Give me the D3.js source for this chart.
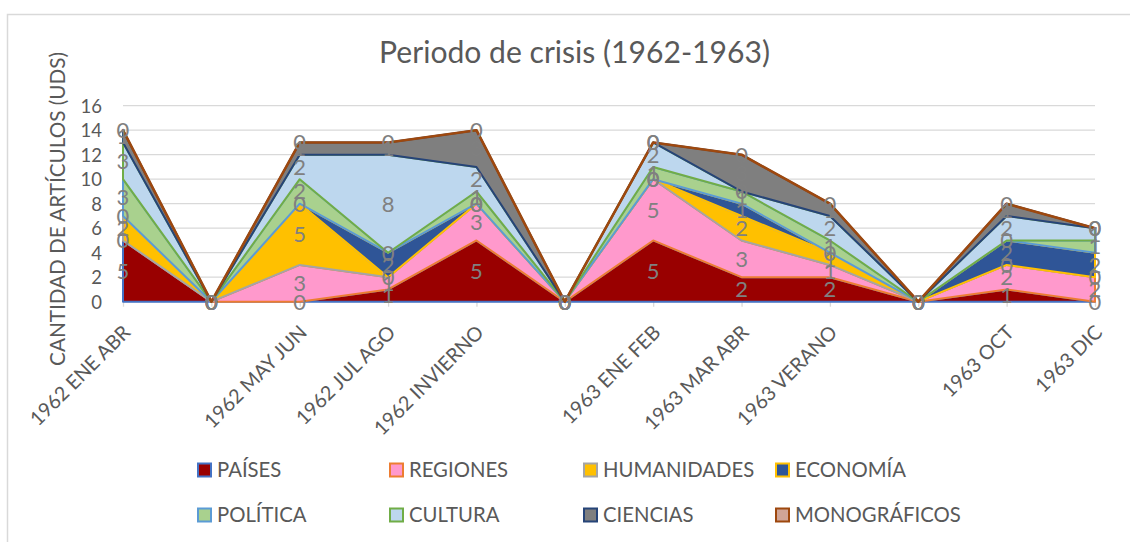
<!DOCTYPE html>
<html>
<head>
<meta charset="utf-8">
<script src="https://cdn.jsdelivr.net/npm/d3@7"></script>
<style>
  html, body { margin: 0; padding: 0; background: #fff; }
  svg { display: block; }
  text { font-family: Lato, "Open Sans", "Noto Sans", sans-serif; }
</style>
</head>
<body>
<svg id="chart" width="1130" height="542"></svg>
<script>
// ---- data ----
const categories = ["1962 ENE ABR", "", "1962 MAY JUN", "1962 JUL AGO", "1962 INVIERNO", "",
                    "1963 ENE FEB", "1963 MAR ABR", "1963 VERANO", "", "1963 OCT", "1963 DIC"];
const seriesNames = ["PAÍSES", "REGIONES", "HUMANIDADES", "ECONOMÍA", "POLÍTICA", "CULTURA", "CIENCIAS", "MONOGRÁFICOS"];
const paises       = [5, 0, 0, 1, 5, 0, 5, 2, 2, 0, 1, 0];
const regiones     = [0, 0, 3, 1, 3, 0, 5, 3, 1, 0, 2, 2];
const humanidades  = [2, 0, 5, 0, 0, 0, 0, 2, 1, 0, 0, 0];
const economia     = [0, 0, 0, 2, 0, 0, 0, 1, 0, 0, 2, 2];
const politica     = [3, 0, 2, 0, 1, 0, 1, 1, 1, 0, 0, 1];
const cultura      = [3, 0, 2, 8, 2, 0, 2, 0, 2, 0, 2, 1];
const ciencias     = [1, 0, 1, 1, 3, 0, 0, 3, 1, 0, 1, 0];
const monograficos = [0, 0, 0, 0, 0, 0, 0, 0, 0, 0, 0, 0];
const yTicks = [0, 2, 4, 6, 8, 10, 12, 14, 16];
const title = "Periodo de crisis (1962-1963)";
const yTitle = "CANTIDAD DE ARTÍCULOS (UDS)";

// ---- styles ----
const fills   = ["#990000", "#FF99CC", "#FFC000", "#2F5597", "#A9D18E", "#BDD7EE", "#7F7F7F", "#D0A597"];
const strokes = ["#4472C4", "#ED7D31", "#A5A5A5", "#FFC000", "#5B9BD5", "#70AD47", "#264478", "#9E480E"];

const values = [paises, regiones, humanidades, economia, politica, cultura, ciencias, monograficos];
const rows = categories.map((c, i) => {
  const r = { idx: i };
  seriesNames.forEach((s, k) => r[s] = values[k][i]);
  return r;
});
const stacked = d3.stack().keys(seriesNames)(rows);

const svg = d3.select("#chart");

function fitText(sel, target) {
  const node = sel.node();
  const fs = parseFloat(sel.attr("font-size"));
  const w = node.getComputedTextLength();
  const nfs = fs * target / w;
  sel.attr("font-size", nfs);
  return nfs;
}

// chart border
svg.append("rect").attr("x", 7.5).attr("y", 14.5).attr("width", 1200).attr("height", 600)
  .attr("fill", "none").attr("stroke", "#D9D9D9").attr("stroke-width", 1.5);

const x = d3.scalePoint().domain(d3.range(categories.length)).range([123, 1095]);
const y = d3.scaleLinear().domain([0, 16]).range([301.7, 105.7]);

// gridlines
svg.append("g").selectAll("line").data(yTicks.filter(t => t > 0)).join("line")
  .attr("x1", 123).attr("x2", 1095)
  .attr("y1", d => y(d)).attr("y2", d => y(d))
  .attr("stroke", "#D9D9D9").attr("stroke-width", 1.3);

// y axis labels
const yAxis = d3.axisLeft(y).tickValues(yTicks).tickSize(0).tickPadding(0);
const gy = svg.append("g").attr("transform", "translate(102,0)").call(yAxis);
gy.select(".domain").remove();
gy.selectAll("text").attr("fill", "#595959").attr("font-size", 18.5)
  .style("font-family", "Lato, 'Open Sans', sans-serif").attr("dy", "0.35em").attr("x", 0);

// x axis
const xAxis = d3.axisBottom(x).tickSize(5).tickFormat(i => categories[i]);
const gx = svg.append("g").attr("transform", "translate(0,301.7)").call(xAxis);
gx.select(".domain").attr("stroke", "#D9D9D9").attr("stroke-width", 1.3).attr("d", "M123,0H1095");
gx.selectAll(".tick line").attr("stroke", "#D9D9D9").attr("stroke-width", 1.3);
const xt = gx.selectAll(".tick text")
  .attr("fill", "#595959").attr("font-size", 16)
  .style("font-family", "Lato, 'Open Sans', sans-serif")
  .attr("text-anchor", "end").attr("dy", 0)
  .attr("transform", "translate(8,32) rotate(-45)").attr("y", 0).attr("x", 0);
// size from the reference width of the first label
const xfs = fitText(gx.select(".tick text"), 132);
xt.attr("font-size", xfs);

// areas
const area = d3.area()
  .x(d => x(d.data.idx))
  .y0(d => y(d[0]))
  .y1(d => y(d[1]));
svg.append("g").selectAll("path").data(stacked).join("path")
  .attr("d", area)
  .attr("fill", (d, i) => fills[i])
  .attr("stroke", (d, i) => strokes[i])
  .attr("stroke-width", (d, i) => i === stacked.length - 1 ? 2.6 : 2)
  .attr("stroke-linejoin", "round");

// data labels
const lab = svg.append("g");
stacked.forEach((layer, k) => {
  lab.selectAll(null).data(layer).join("text")
    .attr("x", d => x(d.data.idx))
    .attr("y", d => y((d[0] + d[1]) / 2))
    .attr("dy", "0.36em")
    .attr("text-anchor", "middle")
    .attr("font-size", 22)
    .attr("fill", "#808080")
    .text(d => d.data[layer.key]);
});

// title
const tt = svg.append("text").attr("x", 574.5).attr("y", 63).attr("text-anchor", "middle")
  .attr("font-size", 26).attr("fill", "#595959").text(title);
fitText(tt, 391);

// y title
const yt = svg.append("text").attr("transform", "translate(65,209) rotate(-90)")
  .attr("text-anchor", "middle").attr("font-size", 20).attr("fill", "#595959").text(yTitle);
fitText(yt, 314);

// legend
const legX = [197, 389, 583, 775];
const legY = [470, 515];
const lg = svg.append("g");
const items = lg.selectAll("g").data(seriesNames).join("g")
  .attr("transform", (d, i) => `translate(${legX[i % 4]},${legY[Math.floor(i / 4)]})`);
items.append("rect").attr("x", 1).attr("y", -6.5).attr("width", 13).attr("height", 13)
  .attr("fill", (d, i) => fills[i]).attr("stroke", (d, i) => strokes[i]).attr("stroke-width", 2);
const lt = items.append("text").attr("x", 20).attr("y", 0).attr("dy", "0.36em")
  .attr("font-size", 19).attr("fill", "#595959").text(d => d);
const lfs = fitText(lt.filter((d, i) => i === 7), 166);
lt.attr("font-size", lfs);
</script>
</body>
</html>
